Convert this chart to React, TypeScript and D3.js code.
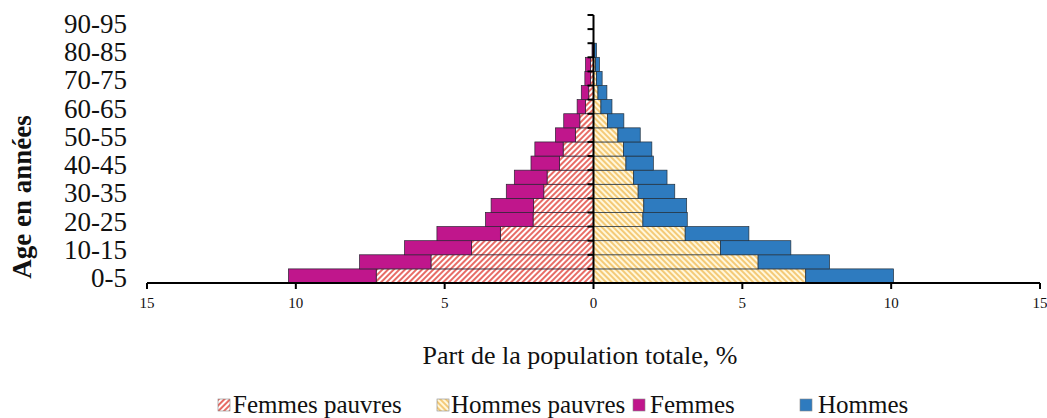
import React from 'react';
import * as d3 from 'd3';

const ages = ['0-5', '5-10', '10-15', '15-20', '20-25', '25-30', '30-35', '35-40', '40-45', '45-50',
  '50-55', '55-60', '60-65', '65-70', '70-75', '75-80', '80-85', '85-90', '90-95'];

// share of total population, %  (non-poor part stacked outside the poor part)
const femmesPauvres = [7.3, 5.46, 4.1, 3.13, 2.03, 2.01, 1.67, 1.56, 1.14, 1.02, 0.61, 0.46, 0.27, 0.16, 0.1, 0.1, 0.03, 0, 0];
const femmes = [2.95, 2.4, 2.25, 2.13, 1.6, 1.43, 1.26, 1.1, 0.96, 0.95, 0.67, 0.54, 0.28, 0.25, 0.19, 0.17, 0.02, 0, 0];
const hommesPauvres = [7.13, 5.53, 4.27, 3.08, 1.66, 1.69, 1.5, 1.35, 1.09, 1.01, 0.82, 0.47, 0.25, 0.15, 0.1, 0.07, 0.03, 0, 0];
const hommes = [2.95, 2.4, 2.36, 2.14, 1.49, 1.44, 1.23, 1.12, 0.92, 0.95, 0.75, 0.55, 0.37, 0.3, 0.19, 0.13, 0.07, 0, 0];

const xTicks = [-15, -10, -5, 0, 5, 10, 15];

const W = 1047;
const H = 418;
const FONT = '"Liberation Serif", "Times New Roman", serif';

const MAGENTA = '#c0168c';
const BLUE = '#2e7bbf';

export default function App() {
  const x = d3.scaleLinear().domain([-15, 15]).range([147, 1040]);
  const y = d3.scaleBand().domain(ages).range([283, 15]).padding(0);
  const bh = y.bandwidth();

  const rows = ages.map((age, i) => ({
    age,
    fp: femmesPauvres[i],
    f: femmes[i],
    hp: hommesPauvres[i],
    h: hommes[i],
  }));

  const left = d3.stack<any>().keys(['fp', 'f'])(rows);
  const right = d3.stack<any>().keys(['hp', 'h'])(rows);
  const fills: Record<string, string> = {
    fp: 'url(#hatchRed)',
    f: MAGENTA,
    hp: 'url(#hatchYellow)',
    h: BLUE,
  };

  // y tick marks at band boundaries
  const bounds = ages.map(a => y(a)! + bh).concat([y(ages[ages.length - 1])!]);

  const legend = [
    { label: 'Femmes pauvres', fill: 'url(#hatchRed)', x: 218, tx: 233 },
    { label: 'Hommes pauvres', fill: 'url(#hatchYellow)', x: 437, tx: 451 },
    { label: 'Femmes', fill: MAGENTA, x: 633, tx: 650 },
    { label: 'Hommes', fill: BLUE, x: 800, tx: 818 },
  ];

  return (
    <svg width={W} height={H} style={{ position: 'absolute', left: 0, top: 0, background: '#fff' }}
      fontFamily={FONT}>
      <defs>
        <pattern id="hatchRed" width="4" height="4" patternUnits="userSpaceOnUse" patternTransform="rotate(45)">
          <rect width="4" height="4" fill="#fff" />
          <line x1="1" y1="0" x2="1" y2="4" stroke="#e2473f" strokeWidth="1.6" />
        </pattern>
        <pattern id="hatchYellow" width="4" height="4" patternUnits="userSpaceOnUse" patternTransform="rotate(-45)">
          <rect width="4" height="4" fill="#fff7dc" />
          <line x1="1" y1="0" x2="1" y2="4" stroke="#f2bf5e" strokeWidth="1.6" />
        </pattern>
      </defs>

      {/* women, to the left */}
      {left.map(s => (
        <g key={s.key}>
          {s.map((d, i) => (d[1] - d[0] > 0 ? (
            <rect key={i}
              x={x(-d[1])} width={x(-d[0]) - x(-d[1])}
              y={y(ages[i])!} height={bh}
              fill={fills[s.key]} stroke="#2b2233" strokeWidth={0.7} />
          ) : null))}
        </g>
      ))}

      {/* men, to the right */}
      {right.map(s => (
        <g key={s.key}>
          {s.map((d, i) => (d[1] - d[0] > 0 ? (
            <rect key={i}
              x={x(d[0])} width={x(d[1]) - x(d[0])}
              y={y(ages[i])!} height={bh}
              fill={fills[s.key]} stroke="#22303d" strokeWidth={0.7} />
          ) : null))}
        </g>
      ))}

      {/* x axis */}
      <line x1={x(-15)} x2={x(15)} y1={283} y2={283} stroke="#000" strokeWidth={2} />
      {xTicks.map(t => (
        <g key={t}>
          <line x1={x(t)} x2={x(t)} y1={283} y2={289} stroke="#000" strokeWidth={2} />
          <text x={x(t)} y={308} fontSize={15} textAnchor="middle" fill="#111">{Math.abs(t)}</text>
        </g>
      ))}

      {/* y axis */}
      <line x1={x(0)} x2={x(0)} y1={15} y2={283} stroke="#000" strokeWidth={2} />
      {bounds.map((b, i) => (
        <line key={i} x1={x(0) - 6} x2={x(0)} y1={b} y2={b} stroke="#000" strokeWidth={2} />
      ))}
      {ages.map((a, i) => (i % 2 === 0 ? (
        <text key={a} x={127} y={y(a)! + bh / 2 + 11} fontSize={27} textAnchor="end" fill="#111">{a}</text>
      ) : null))}

      <text transform="translate(31,197) rotate(-90)" fontSize={27} fontWeight="bold" textAnchor="middle" fill="#111">
        Age en années
      </text>

      <text x={580} y={364} fontSize={26} textAnchor="middle" fill="#111">Part de la population totale, %</text>

      {legend.map(l => (
        <g key={l.label}>
          <rect x={l.x} y={399} width={12} height={12} fill={l.fill} stroke="#888" strokeWidth={0.6} />
          <text x={l.tx} y={413} fontSize={25} fill="#111">{l.label}</text>
        </g>
      ))}
    </svg>
  );
}
